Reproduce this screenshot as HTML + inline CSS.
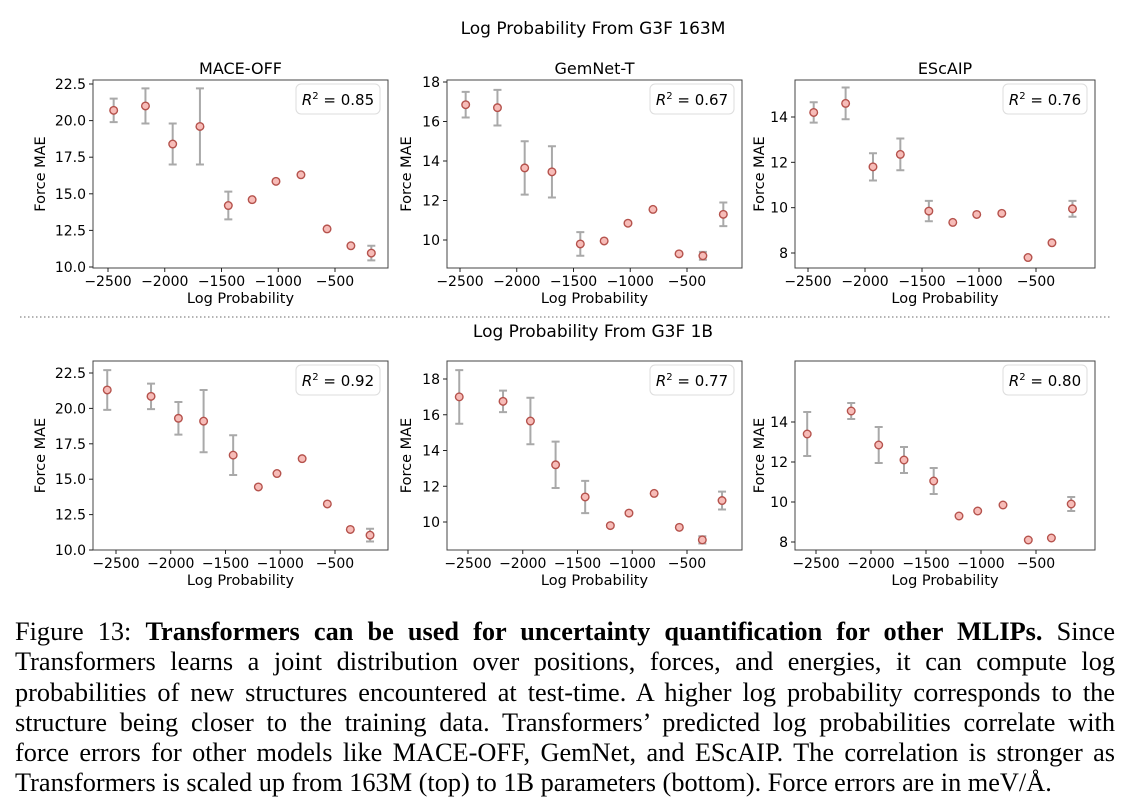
<!DOCTYPE html>
<html><head><meta charset="utf-8">
<style>
body{margin:0;width:1132px;height:812px;background:#fff;overflow:hidden;font-family:"DejaVu Sans",sans-serif}
#cap{position:absolute;left:15px;top:617px;width:1100px;font-family:"Liberation Serif",serif;font-size:26.3px;line-height:30.3px;color:#000}
#cap div{text-align:justify;text-align-last:justify;white-space:nowrap}
#cap div.last{text-align-last:left}
</style></head><body>
<svg id="fig" width="1132" height="612" style="position:absolute;left:0;top:0" font-family="DejaVu Sans, sans-serif"></svg>
<div id="cap">
<div>Figure 13: <b>Transformers can be used for uncertainty quantification for other MLIPs.</b> Since</div>
<div>Transformers learns a joint distribution over positions, forces, and energies, it can compute log</div>
<div>probabilities of new structures encountered at test-time. A higher log probability corresponds to the</div>
<div>structure being closer to the training data. Transformers’ predicted log probabilities correlate with</div>
<div>force errors for other models like MACE-OFF, GemNet, and EScAIP. The correlation is stronger as</div>
<div class="last">Transformers is scaled up from 163M (top) to 1B parameters (bottom). Force errors are in meV/Å.</div>
</div>
<script>
const xTop=[-2450,-2170,-1930,-1690,-1440,-1230,-1020,-800,-570,-360,-180];
const xBot=[-2580,-2180,-1930,-1700,-1430,-1200,-1030,-800,-570,-360,-180];
const maceTop=[20.7,21.0,18.4,19.6,14.2,14.6,15.85,16.3,12.6,11.45,10.95];
const maceTopErr=[0.8,1.2,1.4,2.6,0.95,0,0,0,0,0,0.5];
const gemTop=[16.85,16.7,13.65,13.45,9.8,9.95,10.85,11.55,9.3,9.2,11.3];
const gemTopErr=[0.65,0.9,1.35,1.3,0.6,0,0,0,0,0.2,0.6];
const escTop=[14.2,14.6,11.8,12.35,9.85,9.35,9.7,9.75,7.8,8.45,9.95];
const escTopErr=[0.45,0.7,0.6,0.7,0.45,0,0,0,0,0,0.35];
const maceBot=[21.3,20.85,19.3,19.1,16.7,14.45,15.4,16.45,13.25,11.45,11.05];
const maceBotErr=[1.4,0.9,1.15,2.2,1.4,0,0,0,0,0,0.45];
const gemBot=[17.0,16.75,15.65,13.2,11.4,9.8,10.5,11.6,9.7,9.0,11.2];
const gemBotErr=[1.5,0.6,1.3,1.3,0.9,0,0,0,0,0.2,0.5];
const escBot=[13.4,14.55,12.85,12.1,11.05,9.3,9.55,9.85,8.1,8.2,9.9];
const escBotErr=[1.1,0.4,0.9,0.65,0.65,0,0,0,0,0,0.35];
const xTicks=[-2500,-2000,-1500,-1000,-500];
const maceTicks=[10,12.5,15,17.5,20,22.5];
const gemTicks=[10,12,14,16,18];
const escTicks=[8,10,12,14];
const r2=["0.85","0.67","0.76","0.92","0.77","0.80"];
const titles=["MACE-OFF","GemNet-T","EScAIP"];

const svg=document.getElementById('fig');
const NS='http://www.w3.org/2000/svg';
function mk(t,a,txt){const e=document.createElementNS(NS,t);for(const k in a)e.setAttribute(k,a[k]);if(txt!==undefined)e.textContent=txt;svg.appendChild(e);return e;}

const panels=[
 {L:93,R:388,T:80,B:268,x0:108,x1:335,ya:[10,267],yb:[22.5,84],xs:xTop,ys:maceTop,es:maceTopErr,ticks:maceTicks,fmt:1,title:0,r:0,yl:48},
 {L:447,R:742,T:80,B:268,x0:460,x1:687,ya:[10,240],yb:[18,82],xs:xTop,ys:gemTop,es:gemTopErr,ticks:gemTicks,fmt:0,title:1,r:1,yl:36},
 {L:795,R:1095,T:80,B:268,x0:808,x1:1036,ya:[8,253],yb:[14,117],xs:xTop,ys:escTop,es:escTopErr,ticks:escTicks,fmt:0,title:2,r:2,yl:31},
 {L:93,R:388,T:361,B:550,x0:116,x1:335,ya:[10,550],yb:[22.5,373],xs:xBot,ys:maceBot,es:maceBotErr,ticks:maceTicks,fmt:1,r:3,yl:48},
 {L:447,R:742,T:361,B:550,x0:468,x1:687,ya:[10,522],yb:[18,379],xs:xBot,ys:gemBot,es:gemBotErr,ticks:gemTicks,fmt:0,r:4,yl:36},
 {L:795,R:1095,T:361,B:550,x0:816,x1:1036,ya:[8,542],yb:[14,422],xs:xBot,ys:escBot,es:escBotErr,ticks:escTicks,fmt:0,r:5,yl:31}
];
let e;
e=mk('text',{x:593,y:34,'text-anchor':'middle','font-size':17},'Log Probability From G3F 163M');

e=mk('text',{x:593,y:337,'text-anchor':'middle','font-size':17},'Log Probability From G3F 1B');

e=mk('line',{x1:20,x2:1110,y1:317,y2:317,stroke:'#888','stroke-width':1.2,'stroke-dasharray':'1.5,2.5'});


panels.forEach((p,pi)=>{
 const X=v=>p.x0+(v+2500)*(p.x1-p.x0)/2000;
 const Y=v=>p.ya[1]+(v-p.ya[0])*(p.yb[1]-p.ya[1])/(p.yb[0]-p.ya[0]);
 let e=mk('rect',{x:p.L,y:p.T,width:p.R-p.L,height:p.B-p.T,fill:'none',stroke:'#444','stroke-width':1});
 
 if(p.title!==undefined){e=mk('text',{x:(p.L+p.R)/2,y:p.T-6,'text-anchor':'middle','font-size':16},titles[p.title]);
  }
 xTicks.forEach(t=>{const x=X(t);mk('line',{x1:x,x2:x,y1:p.B,y2:p.B+4,stroke:'#222'});
  e=mk('text',{x:x,y:p.B+18,'text-anchor':'middle','font-size':14},'\u2212'+Math.abs(t));
  });
 p.ticks.forEach(t=>{const y=Y(t);mk('line',{x1:p.L-4,x2:p.L,y1:y,y2:y,stroke:'#222'});
  e=mk('text',{x:p.L-7,y:y+5,'text-anchor':'end','font-size':14},p.fmt?t.toFixed(1):String(t));
  });
 e=mk('text',{x:(p.L+p.R)/2,y:p.B+35,'text-anchor':'middle','font-size':14.5},'Log Probability');
 
 const cy=(p.T+p.B)/2, lx=p.L-p.yl;
 e=mk('text',{x:lx,y:cy,'text-anchor':'middle','font-size':14.5,transform:`rotate(-90 ${lx} ${cy})`},'Force MAE');
 
 e=mk('rect',{x:p.R-92,y:p.T+4,width:84,height:30,rx:5,fill:'#fff',stroke:'#ddd'});
 
 e=mk('text',{x:p.R-50,y:p.T+25,'text-anchor':'middle','font-size':15});
 e.innerHTML='<tspan font-style="italic">R</tspan><tspan dy="-6" font-size="10">2</tspan><tspan dy="6"> = '+r2[p.r]+'</tspan>';
 
 p.xs.forEach((xv,i)=>{const x=X(xv),y=Y(p.ys[i]),er=p.es[i];
  if(er>0){const y1=Y(p.ys[i]+er),y2=Y(p.ys[i]-er);
   e=mk('path',{d:`M${x},${y1}V${y2}M${x-4},${y1}H${x+4}M${x-4},${y2}H${x+4}`,stroke:'#a9a9a9','stroke-width':2,fill:'none'});
   }
  e=mk('circle',{cx:x,cy:y,r:3.8,fill:'#f7bcb8',stroke:'#b5524c','stroke-width':1.4});
  });
});
</script>
</body></html>
